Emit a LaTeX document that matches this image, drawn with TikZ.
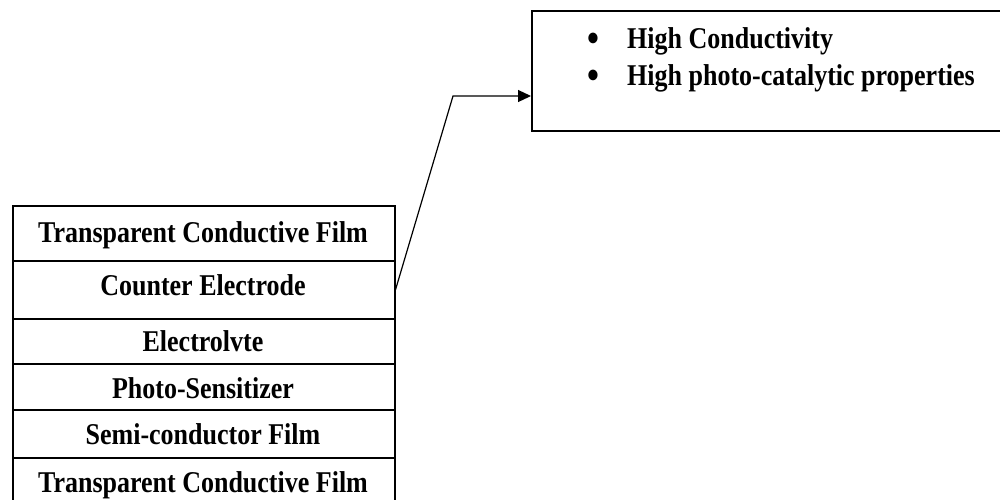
\documentclass[tikz,border=0pt]{standalone}
\usepackage{fontspec}
\setmainfont{Liberation Serif}
\usetikzlibrary{arrows.meta}
\tikzset{
  cell/.style={draw=black, line width=1.5pt, minimum width=382pt, inner sep=0pt, anchor=north west},
  lbl/.style={inner sep=0pt, anchor=base, font=\fontsize{26}{30}\selectfont\bfseries},
  btxt/.style={inner sep=0pt, anchor=base west, font=\fontsize{26}{30}\selectfont\bfseries},
  bul/.style={inner sep=0pt, anchor=center, font=\fontsize{34}{40}\selectfont\bfseries},
  infobox/.style={draw=black, line width=1.8pt, inner sep=0pt, anchor=north west, minimum width=480pt, minimum height=120pt},
  conn/.style={line width=1.2pt, -{Triangle[length=13pt,width=12pt]}}
}
\newcommand{\stretchtxt}[1]{\scalebox{1}[1.16]{#1}}
\begin{document}
\begin{tikzpicture}[x=1pt,y=-1pt]
\clip (0,0) rectangle (1000,499);
\fill[white] (0,0) rectangle (1000,499);
% stack
\node[cell, minimum height=55pt] (r1) at (12,205) {};
\node[cell, minimum height=58pt] (r2) at (12,260) {};
\node[cell, minimum height=45pt] (r3) at (12,318) {};
\node[cell, minimum height=46pt] (r4) at (12,363) {};
\node[cell, minimum height=48pt] (r5) at (12,409) {};
\node[cell, minimum height=53pt] (r6) at (12,457) {};
\node[lbl] (t1) at (203,242) {\stretchtxt{Transparent Conductive Film}};
\node[lbl] (t2) at (203,295) {\stretchtxt{Counter Electrode}};
\node[lbl] (t3) at (203,351) {\stretchtxt{Electrolvte}};
\node[lbl] (t4) at (203,398) {\stretchtxt{Photo-Sensitizer}};
\node[lbl] (t5) at (203,444) {\stretchtxt{Semi-conductor Film}};
\node[lbl] (t6) at (203,492) {\stretchtxt{Transparent Conductive Film}};
% info box
\node[infobox] (box) at (531,10) {};
\node[bul] (b1) at (593,42) {\stretchtxt{•}};
\node[btxt] (l1) at (627,48) {\stretchtxt{High Conductivity}};
\node[bul] (b2) at (593,79) {\stretchtxt{•}};
\node[btxt] (l2) at (627,85) {\stretchtxt{High photo-catalytic properties}};
% connector
\coordinate (bend) at (453,96);
\draw[conn] (r2.east) -- (bend) -- (bend -| box.west);
\end{tikzpicture}
\end{document}
